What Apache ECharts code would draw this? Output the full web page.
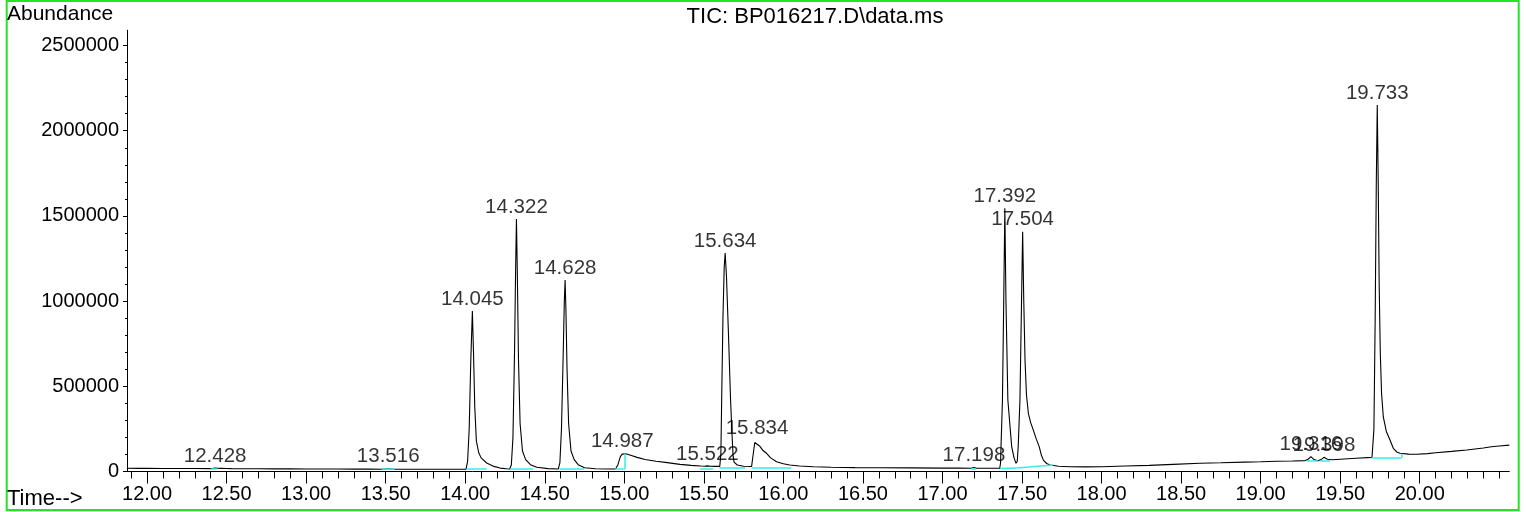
<!DOCTYPE html>
<html>
<head>
<meta charset="utf-8">
<title>TIC: BP016217.D\data.ms</title>
<script src="https://cdn.jsdelivr.net/npm/echarts@6/dist/echarts.min.js"></script>
<style>
  html, body { margin: 0; padding: 0; background: #fff; }
  #chart { width: 1526px; height: 512px; }
</style>
</head>
<body>
<div id="chart"></div>
<script>
// TIC trace: [retention time (min), abundance]
const ticTrace = [
  [11.874, 19000], [11.95, 18500], [12.0, 18500], [12.1, 18000], [12.2, 17500], [12.3, 17500],
  [12.39, 17000], [12.41, 18000], [12.428, 21000], [12.445, 19000], [12.47, 18500], [12.5, 18000],
  [12.53, 17000], [12.6, 16500], [12.7, 16000], [12.8, 15500], [12.9, 15500], [13.0, 15000],
  [13.1, 15000], [13.2, 14500], [13.3, 14000], [13.4, 14000], [13.48, 13500], [13.5, 15500],
  [13.516, 18000], [13.535, 15500], [13.56, 13500], [13.65, 13500], [13.75, 13000], [13.85, 13000],
  [13.95, 13000], [14.005, 13500],
  // 14.045
  [14.015, 60000], [14.025, 250000], [14.035, 650000], [14.045, 942000], [14.052, 700000],
  [14.06, 380000], [14.07, 180000], [14.085, 110000], [14.1, 80000], [14.135, 50000],
  [14.18, 30000], [14.22, 20000], [14.26, 16000], [14.28, 15000],
  // 14.322
  [14.29, 40000], [14.30, 200000], [14.31, 700000], [14.317, 1200000], [14.322, 1482000],
  [14.327, 1200000], [14.335, 650000], [14.345, 280000], [14.36, 120000], [14.38, 70000],
  [14.41, 40000], [14.45, 25000], [14.52, 17000], [14.585, 15000],
  // 14.628
  [14.595, 50000], [14.605, 250000], [14.615, 650000], [14.623, 1000000], [14.628, 1124000],
  [14.633, 950000], [14.64, 600000], [14.65, 280000], [14.665, 120000], [14.685, 70000],
  [14.71, 40000], [14.75, 22000], [14.82, 16000], [14.9, 14500], [14.945, 14500],
  // 14.987
  [14.96, 40000], [14.975, 87000], [14.987, 102000], [14.998, 107000], [15.01, 104000],
  [15.04, 95000], [15.08, 83000], [15.13, 70000], [15.2, 60000], [15.27, 52000], [15.35, 42000],
  [15.42, 36000], [15.48, 32000], [15.505, 31000], [15.522, 33000], [15.54, 30500], [15.57, 30000],
  [15.6, 30000],
  // 15.634
  [15.607, 100000], [15.612, 420000], [15.62, 900000], [15.628, 1200000], [15.634, 1282000],
  [15.642, 1150000], [15.655, 800000], [15.668, 420000], [15.678, 200000], [15.684, 90000],
  [15.69, 55000], [15.71, 38000], [15.75, 31000], [15.80, 29000],
  // 15.834
  [15.81, 100000], [15.82, 170000], [15.832, 181000], [15.85, 150000], [15.87, 125000],
  [15.894, 107000], [15.92, 80000], [15.957, 57500], [16.0, 45000], [16.04, 38000], [16.1, 32000],
  [16.19, 28000], [16.3, 25000], [16.45, 23000], [16.6, 22000], [16.8, 21000], [17.0, 20000],
  [17.1, 20000], [17.18, 19500], [17.198, 23000], [17.215, 19500], [17.3, 19500], [17.36, 19500],
  // 17.392 / 17.504
  [17.365, 50000], [17.368, 146000], [17.377, 420000], [17.385, 1000000], [17.392, 1545000],
  [17.399, 1000000], [17.411, 420000], [17.435, 146000], [17.45, 80000], [17.462, 48000],
  [17.47, 60000], [17.476, 146000], [17.487, 420000], [17.497, 1000000], [17.504, 1407000],
  [17.511, 1000000], [17.519, 650000], [17.528, 450000], [17.54, 340000], [17.555, 285000],
  [17.571, 243000], [17.59, 190000], [17.608, 146000], [17.622, 95000], [17.634, 67000],
  [17.655, 47000], [17.676, 38000], [17.73, 31000],
  [17.8, 28000], [17.9, 27000], [18.0, 28000], [18.15, 32000], [18.3, 36000], [18.45, 42000],
  [18.618, 48000], [18.75, 51000], [18.9, 55000], [19.0, 57000], [19.1, 60000], [19.2, 62000],
  [19.28, 64000], [19.298, 72000], [19.316, 87000], [19.335, 70000], [19.36, 63000],
  [19.38, 70000], [19.398, 83000], [19.42, 72000], [19.45, 69000], [19.5, 72000], [19.6, 78000],
  [19.7, 83000], [19.706, 84000],
  // 19.733
  [19.712, 250000], [19.72, 900000], [19.727, 1700000], [19.733, 2151000], [19.739, 1700000],
  [19.745, 1100000], [19.752, 700000], [19.76, 460000], [19.771, 320000], [19.79, 235000],
  [19.813, 185000], [19.834, 136000], [19.855, 115000], [19.876, 107000], [19.93, 102000],
  [19.98, 101000], [20.05, 105000], [20.1, 110000], [20.2, 118000], [20.295, 126000],
  [20.4, 138000], [20.45, 145000], [20.5, 150000], [20.563, 155000]
];

// integration baselines (cyan): [t1, a1, t2, a2]
const baselineSegs = [
  [12.40, 17000, 12.44, 17000],
  [13.475, 13500, 13.558, 13500],
  [14.009, 13500, 14.135, 13500],
  [14.282, 14000, 14.425, 14000],
  [14.591, 14000, 14.747, 14000],
  [14.942, 14000, 15.004, 14000],
  [15.004, 14000, 15.004, 105000],
  [15.476, 19000, 15.56, 19000],
  [15.597, 20000, 15.759, 20000],
  [15.80, 20000, 16.05, 20000],
  [17.18, 18000, 17.21, 18000],
  [17.361, 18000, 17.466, 20000],
  [17.466, 20000, 17.696, 38000],
  [19.289, 62000, 19.362, 62000],
  [19.373, 64000, 19.436, 66000],
  [19.697, 81000, 19.886, 81000],
  [19.886, 81000, 19.886, 104000]
];

// labelled peaks
const peakLabels = ['12.428', '13.516', '14.045', '14.322', '14.628', '14.987', '15.522',
  '15.634', '15.834', '17.198', '17.392', '17.504', '19.316', '19.398', '19.733'];
const peakTimes = [12.428, 13.516, 14.045, 14.322, 14.628, 14.987, 15.522,
  15.634, 15.834, 17.198, 17.392, 17.504, 19.316, 19.398, 19.733];
const peakApex = [21000, 18000, 942000, 1482000, 1124000, 107000, 33000,
  1282000, 181000, 23000, 1545000, 1407000, 87000, 83000, 2151000];

const xTickLabels = [12.0, 12.5, 13.0, 13.5, 14.0, 14.5, 15.0, 15.5, 16.0, 16.5, 17.0, 17.5,
  18.0, 18.5, 19.0, 19.5, 20.0];
const yTickLabels = [0, 500000, 1000000, 1500000, 2000000, 2500000];

const xMin = 11.874, xMax = 20.563;
const yMax = 2590000;

const xMinorTicks = [];
for (let i = 119; i <= 205; i++) xMinorTicks.push(i / 10);
const yMinorTicks = [];
for (let i = 0; i <= 25; i++) yMinorTicks.push(i * 100000);

const FONT = "'Liberation Sans', Arial, sans-serif";
const chart = echarts.init(document.getElementById('chart'));

const option = {
  animation: false,
  backgroundColor: '#fff',
  grid: { left: 127, right: 16.7, top: 30.2, bottom: 40.5 },
  xAxis: [
    {
      type: 'value', min: xMin, max: xMax, position: 'bottom',
      axisLine: { show: true, lineStyle: { color: '#000', width: 1 } },
      axisTick: { show: true, length: 7, customValues: xMinorTicks, lineStyle: { color: '#000' } },
      axisLabel: { show: false },
      splitLine: { show: false }
    },
    {
      type: 'value', min: xMin, max: xMax, position: 'bottom',
      axisLine: { show: false },
      axisTick: { show: true, length: 12, customValues: xTickLabels, lineStyle: { color: '#000' } },
      axisLabel: {
        show: true, customValues: xTickLabels, margin: 13,
        formatter: v => v.toFixed(2),
        color: '#000', fontSize: 20, fontFamily: FONT
      },
      splitLine: { show: false }
    }
  ],
  yAxis: [
    {
      type: 'value', min: 0, max: yMax, position: 'left',
      axisLine: { show: true, lineStyle: { color: '#000', width: 1 } },
      axisTick: { show: true, length: 2, customValues: yMinorTicks, lineStyle: { color: '#000' } },
      axisLabel: { show: false },
      splitLine: { show: false }
    },
    {
      type: 'value', min: 0, max: yMax, position: 'left',
      axisLine: { show: false },
      axisTick: { show: true, length: 4, customValues: yTickLabels, lineStyle: { color: '#000' } },
      axisLabel: {
        show: true, customValues: yTickLabels, margin: 8,
        formatter: v => String(v),
        color: '#000', fontSize: 20, fontFamily: FONT
      },
      splitLine: { show: false }
    }
  ],
  series: [
    {
      name: 'TIC', type: 'line', xAxisIndex: 0, yAxisIndex: 0,
      data: ticTrace, showSymbol: false, symbol: 'none',
      lineStyle: { color: '#000', width: 1.1 }, z: 2
    },
    {
      name: 'baseline', type: 'lines', coordinateSystem: 'cartesian2d',
      xAxisIndex: 0, yAxisIndex: 0,
      data: baselineSegs.map(s => ({ coords: [[s[0], s[1]], [s[2], s[3]]] })),
      lineStyle: { color: '#33eeee', width: 1.5, opacity: 1 }, z: 3
    },
    {
      name: 'peaks', type: 'scatter', xAxisIndex: 0, yAxisIndex: 0,
      data: peakTimes.map((t, i) => ({ name: peakLabels[i], value: [t, peakApex[i]] })),
      symbolSize: 1, itemStyle: { color: 'rgba(0,0,0,0)' },
      label: {
        show: true, position: 'top', distance: 1, formatter: '{b}',
        color: '#000', fontSize: 20.5, fontFamily: FONT
      },
      z: 4
    }
  ],
  graphic: [
    {
      type: 'rect', silent: true,
      shape: { x: 6.7, y: 1, width: 1512, height: 509 },
      style: { fill: null, stroke: '#22e622', lineWidth: 2 }
    },
    {
      type: 'text', left: 7, top: 4,
      style: { text: 'Abundance', fill: '#000', font: "21px " + FONT }
    },
    {
      type: 'text', left: 7, top: 488,
      style: { text: 'Time-->', fill: '#000', font: "22px " + FONT }
    },
    {
      type: 'text', x: 815, y: 17,
      style: {
        text: 'TIC: BP016217.D\\data.ms', fill: '#000', font: "22px " + FONT,
        align: 'center', verticalAlign: 'middle'
      }
    }
  ]
};

chart.setOption(option);
</script>
</body>
</html>
